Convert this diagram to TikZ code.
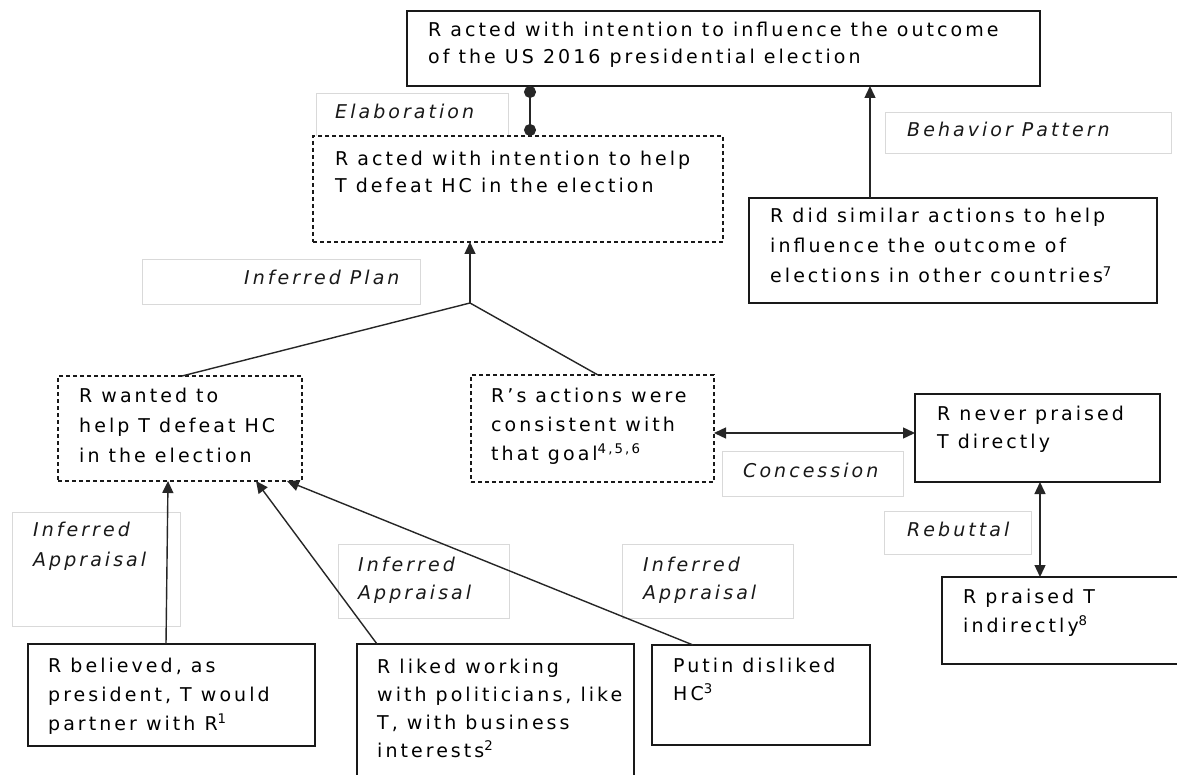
\documentclass[tikz,border=0pt]{standalone}
\usepackage{fontspec}
\setmainfont{DejaVu Sans}[LetterSpace=16]
\usetikzlibrary{arrows.meta}
\newcommand\mylines[2]{{\fontsize{19}{#1}\selectfont\begin{tabular}[t]{@{}l@{}}#2\end{tabular}}}
\tikzset{
  box/.style={draw=black!90, line width=1.4pt, fill=white, anchor=north west, inner sep=0pt, outer sep=0pt},
  dbox/.style={box, line width=1.1pt, dash pattern=on 4pt off 3pt},
  lbox/.style={draw=black!15, line width=0.8pt, anchor=north west, inner sep=0pt, outer sep=0pt},
  txt/.style={anchor=base west, inner sep=0pt, text=black},
  ltxt/.style={txt, font=\itshape, text=black!90},
  conn/.style={line width=1.4pt, draw=black!85},
  arr/.style={conn, -{Triangle[length=12pt,width=11pt]}},
  dbl/.style={conn, {Triangle[length=12pt,width=11pt]}-{Triangle[length=12pt,width=11pt]}},
  balls/.style={conn, {Circle[length=12pt]}-{Circle[length=12pt]}},
}
\begin{document}
\begin{tikzpicture}[x=1pt,y=-1pt]
\useasboundingbox (0,0) rectangle (1177,775);
\clip (0,0) rectangle (1177,775);
\fill[white] (0,0) rectangle (1177,775);

% label boxes
\node[lbox, minimum width=192pt, minimum height=43pt] (lElab) at (316,93) {};
\node[lbox, minimum width=286pt, minimum height=41pt] (lBeh) at (885,112) {};
\node[lbox, minimum width=278pt, minimum height=45pt] (lPlan) at (142,259) {};
\node[lbox, minimum width=181pt, minimum height=45pt] (lConc) at (722,451) {};
\node[lbox, minimum width=147pt, minimum height=43pt] (lReb) at (884,511) {};
\node[lbox, minimum width=168pt, minimum height=114pt] (lApp1) at (12,512) {};
\node[lbox, minimum width=171pt, minimum height=74pt] (lApp2) at (338,544) {};
\node[lbox, minimum width=171pt, minimum height=74pt] (lApp3) at (622,544) {};

% label texts
\node[ltxt] (tElab) at (335,119) {\mylines{27}{Elaboration}};
\node[ltxt] (tBeh) at (907,137) {\mylines{27}{Behavior Pattern}};
\node[ltxt] (tPlan) at (244,285) {\mylines{27}{Inferred Plan}};
\node[ltxt] (tConc) at (743,477) {\mylines{27}{Concession}};
\node[ltxt] (tReb) at (907,536) {\mylines{27}{Rebuttal}};
\node[ltxt] (tApp1) at (33,536) {\mylines{30}{Inferred\\Appraisal}};
\node[ltxt] (tApp2) at (358,571) {\mylines{28}{Inferred\\Appraisal}};
\node[ltxt] (tApp3) at (643,571) {\mylines{28}{Inferred\\Appraisal}};

% boxes
\node[box, minimum width=633pt, minimum height=75pt] (A) at (407,11) {};
\node[dbox, minimum width=410pt, minimum height=106pt] (B) at (313,136) {};
\node[box, minimum width=408pt, minimum height=105pt] (C) at (749,198) {};
\node[dbox, minimum width=244pt, minimum height=105pt] (D) at (58,376) {};
\node[dbox, minimum width=243pt, minimum height=107pt] (E) at (471,375) {};
\node[box, minimum width=245pt, minimum height=88pt] (F) at (915,394) {};
\node[box, minimum width=243pt, minimum height=87pt] (G) at (942,577) {};
\node[box, minimum width=287pt, minimum height=102pt] (H) at (28,644) {};
\node[box, minimum width=277pt, minimum height=141pt] (I) at (357,644) {};
\node[box, minimum width=218pt, minimum height=100pt] (P) at (652,645) {};

% box texts
\node[txt] (tA) at (428,37) {\mylines{26.5}{R acted with intention to influence the outcome\\of the US 2016 presidential election}};
\node[txt] (tB) at (335,166) {\mylines{27}{R acted with intention to help\\T defeat HC in the election}};
\node[txt] (tC) at (770,223) {\mylines{30}{R did similar actions to help\\influence the outcome of\\elections in other countries\textsuperscript{7}}};
\node[txt] (tD) at (79,402) {\mylines{30}{R wanted to\\help T defeat HC\\in the election}};
\node[txt] (tE) at (491,402) {\mylines{29}{R’s actions were\\consistent with\\that goal\textsuperscript{4,5,6}}};
\node[txt] (tF) at (937,420) {\mylines{28}{R never praised\\T directly}};
\node[txt] (tG) at (963,603) {\mylines{29}{R praised T\\indirectly\textsuperscript{8}}};
\node[txt] (tH) at (48,672) {\mylines{29}{R believed, as\\president, T would\\partner with R\textsuperscript{1}}};
\node[txt] (tI) at (377,673) {\mylines{28}{R liked working\\with politicians, like\\T, with business\\interests\textsuperscript{2}}};
\node[txt] (tP) at (673,672) {\mylines{28}{Putin disliked\\HC\textsuperscript{3}}};

% connectors
\draw[balls] ([xshift=123pt]A.south west) -- ([xshift=217pt]B.north west);
\draw[arr] ([xshift=121pt]C.north west) -- ([xshift=463pt]A.south west);
\coordinate (J) at (470,303);
\draw[arr] (J) -- ([xshift=157pt]B.south west);
\draw[conn] (J) -- ([xshift=124pt]D.north west);
\draw[conn] (J) -- ([xshift=127pt]E.north west);
\draw[dbl] ([yshift=-58pt]E.north east) -- ([yshift=-39pt]F.north west);
\draw[dbl] ([xshift=125pt]F.south west) -- ([xshift=98pt]G.north west);
\draw[arr] ([xshift=138pt]H.north west) -- ([xshift=110pt]D.south west);
\draw[arr] ([xshift=20pt]I.north west) -- ([xshift=198pt]D.south west);
\draw[arr] ([xshift=41pt]P.north west) -- ([xshift=229pt]D.south west);
\end{tikzpicture}
\end{document}
